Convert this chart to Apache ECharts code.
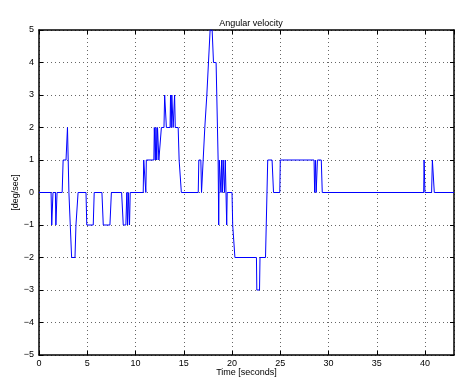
<!DOCTYPE html>
<html>
<head>
<meta charset="utf-8">
<script src="https://cdn.jsdelivr.net/npm/echarts@6/dist/echarts.min.js"></script>
<style>
  html, body { margin: 0; padding: 0; background: #fff; }
  #chart { width: 458px; height: 378px; }
</style>
</head>
<body>
<div id="chart"></div>
<script>
  // angular velocity samples (seconds, deg/sec)
  var timeSec = [
    0, 1.25, 1.32, 1.38, 1.45, 1.7, 1.75, 1.8, 1.87,
    2.4, 2.5, 2.8, 2.95, 3.03, 3.1, 3.38, 3.73, 3.83, 3.95, 4.05,
    4.87, 4.95, 5.62, 5.72, 6.52, 6.66, 7.35, 7.5,
    8.56, 8.73, 9.0, 9.1, 9.18, 9.25, 9.38, 9.45,
    10.8, 10.85, 11.02, 11.07, 11.12,
    11.9, 11.95, 12.0, 12.05, 12.12, 12.2, 12.28, 12.35, 12.42, 12.6, 12.68,
    12.95, 13.02, 13.12, 13.2, 13.58, 13.63, 13.7, 13.76, 13.84, 13.9, 14.05, 14.12,
    14.42, 14.52, 14.6, 14.75,
    16.5, 16.56, 16.77, 16.84, 16.9, 17.18, 17.29, 17.39, 17.53, 17.73, 17.94, 18.08, 18.35,
    18.56, 18.62, 18.68, 18.8, 18.85, 18.92, 19.0, 19.08, 19.18, 19.22, 19.3, 19.38, 19.45, 19.5,
    20.0, 20.07, 20.2, 20.3, 22.53, 22.57, 22.85, 22.9, 23.47, 23.7, 24.15, 24.3,
    24.95, 25.0, 28.5, 28.56, 28.65, 28.72, 28.85, 29.25, 29.35,
    39.86, 39.9, 39.95, 39.99, 40.68, 40.76, 40.88, 40.96, 43
  ];
  var angVel = [
    0, 0, -1, -1, 0, 0, -1, -1, 0,
    0, 1, 1, 2, 2, 0, -2, -2, -1, -1, 0,
    0, -1, -1, 0, 0, -1, -1, 0,
    0, -1, -1, 0, -1, 0, -1, 0,
    0, 1, 1, 0, 1,
    1, 2, 2, 1, 2, 1, 2, 2, 1, 1, 2,
    2, 3, 3, 2, 2, 3, 2, 3, 3, 2, 3, 2,
    2, 1, 1, 0,
    0, 1, 1, 0, 0, 2, 2, 3, 3, 5, 5, 4, 4,
    1, -1, 1, 1, 0, 1, 0, 1, 1, 0, 1, 1, -1, 0,
    0, -1, -1, -2, -2, -3, -3, -2, -2, 1, 1, 0,
    0, 1, 1, 0, 1, 0, 1, 1, 0,
    0, 1, 1, 0, 0, 1, 1, 0, 0
  ];

  var xRange = [0, 43];
  var yRange = [-5, 5];
  var font = 'Liberation Sans';

  var pts = [];
  for (var i = 0; i < timeSec.length; i++) {
    pts.push([timeSec[i], angVel[i]]);
  }

  function minusFmt(v) {
    return v < 0 ? '\u2212' + (-v) : String(v);
  }

  var frame = { show: true, onZero: false, lineStyle: { color: '#000', width: 1.5 } };
  var inTick = { show: true, inside: true, length: 4, lineStyle: { color: '#000', width: 1 } };
  var dots = { show: true, lineStyle: { color: '#666', width: 1, type: [1, 3] } };

  var chart = echarts.init(document.getElementById('chart'));
  chart.setOption({
    backgroundColor: '#fff',
    animation: false,
    title: {
      text: 'Angular velocity',
      left: 246, top: 14, textAlign: 'center',
      textStyle: { fontFamily: font, fontSize: 9, fontWeight: 'normal', color: '#000' }
    },
    grid: { left: 39, right: 4, top: 30, bottom: 23, outerBoundsMode: 'none' },
    xAxis: [
      {
        type: 'value', min: xRange[0], max: xRange[1], interval: 5, position: 'bottom',
        axisLine: frame, axisTick: inTick, splitLine: dots,
        axisLabel: { color: '#000', fontFamily: font, fontSize: 9, margin: 4, showMaxLabel: false },
        name: 'Time [seconds]', nameLocation: 'middle', nameGap: 13, nameMoveOverlap: false,
        nameTextStyle: { color: '#000', fontFamily: font, fontSize: 9 }
      },
      {
        type: 'value', min: xRange[0], max: xRange[1], interval: 5, position: 'top',
        axisLine: frame, axisTick: inTick, splitLine: { show: false }, axisLabel: { show: false }
      }
    ],
    yAxis: [
      {
        type: 'value', min: yRange[0], max: yRange[1], interval: 1, position: 'left',
        axisLine: frame, axisTick: inTick, splitLine: dots,
        axisLabel: { color: '#000', fontFamily: font, fontSize: 9, margin: 5, formatter: minusFmt },
        name: '[deg/sec]', nameLocation: 'middle', nameGap: 19, nameMoveOverlap: false,
        nameTextStyle: { color: '#000', fontFamily: font, fontSize: 9 }
      },
      {
        type: 'value', min: yRange[0], max: yRange[1], interval: 1, position: 'right',
        axisLine: frame, axisTick: inTick, splitLine: { show: false }, axisLabel: { show: false }
      }
    ],
    series: [
      {
        type: 'line',
        data: pts,
        showSymbol: false,
        lineStyle: { color: '#0000ff', width: 1 }
      }
    ]
  });
</script>
</body>
</html>
